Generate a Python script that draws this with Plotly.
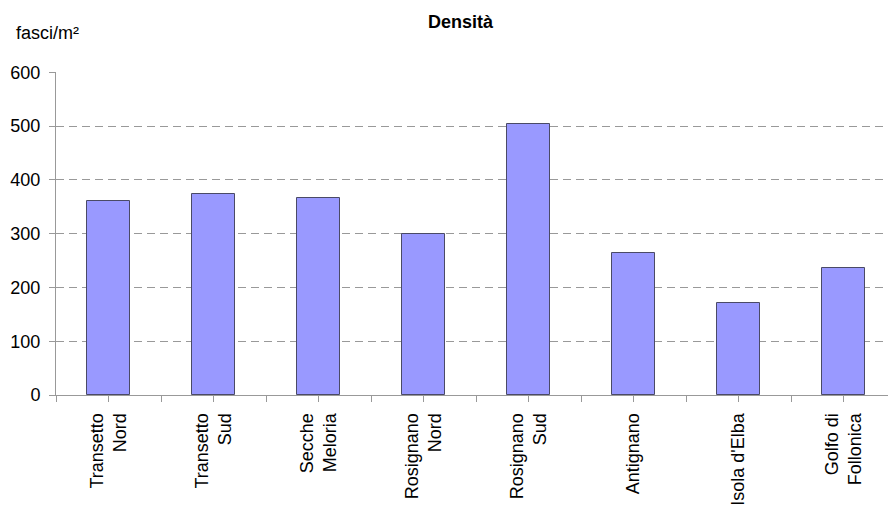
import plotly.graph_objects as go

categories = ["Transetto<br>Nord", "Transetto<br>Sud", "Secche<br>Meloria", "Rosignano<br>Nord",
              "Rosignano<br>Sud", "Antignano", "Isola d'Elba", "Golfo di<br>Follonica"]
densita = [360, 374, 366, 300, 504, 264, 171, 236]
y_ticks = [0, 100, 200, 300, 400, 500, 600]

xpos = list(range(len(categories)))
FONT = "Liberation Sans, Arial, sans-serif"

fig = go.Figure(go.Bar(
    x=xpos, y=densita, width=0.41,
    marker=dict(color="#9999FF", line=dict(color="#4a4a66", width=1)),
))

fig.update_layout(
    width=888, height=508,
    margin=dict(l=56, r=0, t=72, b=113, autoexpand=False),
    paper_bgcolor="white", plot_bgcolor="white",
    font=dict(family=FONT, size=18, color="black"),
    showlegend=False,
    bargap=0,
)
fig.update_xaxes(
    range=[-0.5, -0.5 + 832 / 105],
    automargin=False,
    tickmode="array", tickvals=xpos, ticktext=categories,
    tickangle=-90, ticks="outside", ticklen=6, tickcolor="#999999",
    ticklabelstandoff=4,
    showline=True, linecolor="#999999", linewidth=1,
    showgrid=False, zeroline=False,
    minor=dict(tickmode="linear", tick0=-0.5, dtick=1, ticks="outside", ticklen=6,
               tickcolor="#999999", showgrid=False),
)
fig.update_yaxes(
    range=[0, 600.4], automargin=False,
    tickmode="array", tickvals=y_ticks,
    ticks="outside", ticklen=6, tickcolor="#999999",
    ticklabelstandoff=5,
    showline=True, linecolor="#999999", linewidth=1,
    showgrid=True, gridcolor="#999999", gridwidth=1, griddash="8px,5px",
    zeroline=False,
)
fig.add_annotation(text="<b>Densità</b>", xref="paper", yref="paper",
                   x=(461 - 56) / 832, y=1 + (72 - 22) / 323, xanchor="center", yanchor="middle",
                   showarrow=False, font=dict(size=18))
fig.add_annotation(text="fasci/m²", xref="paper", yref="paper",
                   x=(14 - 56) / 832, y=1 + (72 - 33) / 323, xanchor="left", yanchor="middle",
                   showarrow=False, font=dict(size=18))

fig.write_html("out.html",
               config={"displayModeBar": False},
               post_script="document.body.style.margin='0';document.body.style.padding='0';")
